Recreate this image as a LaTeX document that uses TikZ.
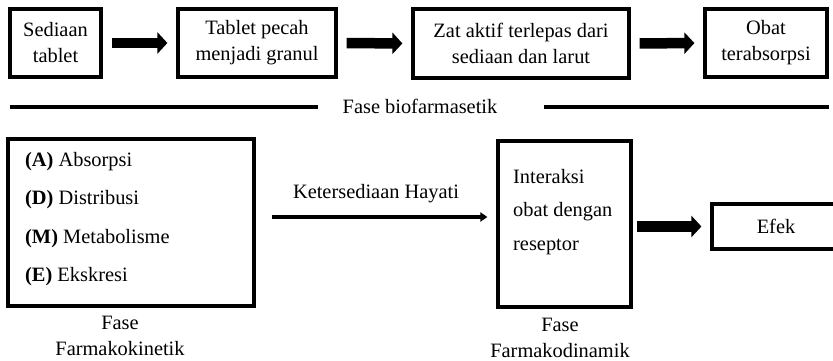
\documentclass[tikz,border=0pt]{standalone}
\usepackage{fontspec}
\setmainfont{Liberation Serif}
\usetikzlibrary{arrows.meta}
\begin{document}
\begin{tikzpicture}[x=1pt,y=-1pt,
  font=\fontsize{20.4pt}{26pt}\selectfont,
  box/.style={draw=black,line width=3.2pt,inner sep=0pt,align=center},
  fat/.style={line width=10.5pt,-{Triangle[length=10pt,width=21pt]}},
  thin/.style={line width=3.2pt,-{Triangle[length=7pt,width=9pt]}},
  rule/.style={line width=3.2pt},
  item/.style={anchor=west,inner sep=0pt}]
\useasboundingbox (0,0) rectangle (833,361);

% biopharmaceutical phase: top row
\node[box,minimum width=91pt,minimum height=68pt]  (b1) at (55.5,43) {Sediaan\\tablet};
\node[box,minimum width=158pt,minimum height=68pt] (b2) at (257,43) {Tablet pecah\\menjadi granul};
\node[box,minimum width=216pt,minimum height=69pt] (b3) at (521,43.5) {Zat aktif terlepas dari\\sediaan dan larut};
\node[box,minimum width=122pt,minimum height=68pt] (b4) at (766,43) {Obat\\terabsorpsi};

\draw[fat,shorten <=9pt,shorten >=9pt] (b1.east) -- (b2.west);
\draw[fat,shorten <=9pt,shorten >=9pt] (b2.east) -- (b3.west);
\draw[fat,shorten <=9pt,shorten >=9pt] (b3.east) -- (b4.west);

% phase caption with rules on both sides
\node[inner sep=0pt] (fb) at (420,106) {Fase biofarmasetik};
\coordinate (l1) at (10,107);
\coordinate (r1) at (829,107);
\draw[rule] (l1) -- ([xshift=-24pt]fb.west |- l1);
\draw[rule] ([xshift=46pt]fb.east |- r1) -- (r1);

% pharmacokinetic phase
\node[box,minimum width=246pt,minimum height=167pt] (pk) at (131,222.5) {};
\node[item] (iA) at (25,162) {\textbf{(A)} Absorpsi};
\node[item] (iD) at (25,200) {\textbf{(D)} Distribusi};
\node[item] (iM) at (25,238.5) {\textbf{(M)} Metabolisme};
\node[item] (iE) at (25,277) {\textbf{(E)} Ekskresi};
\node[align=center,inner sep=0pt] (pkl) at (120,336) {Fase\\Farmakokinetik};

% pharmacodynamic phase
\node[box,minimum width=133pt,minimum height=166pt] (pd) at (564.5,224) {};
\node[item] (t1) at (513,177) {Interaksi};
\node[item] (t2) at (513,212) {obat dengan};
\node[item] (t3) at (513,247) {reseptor};
\node[align=center,inner sep=0pt] (pdl) at (560,337.5) {Fase\\Farmakodinamik};

\draw[thin,shorten <=16pt,shorten >=9pt] (pk.east |- 0,217) -- (pd.west |- 0,217);
\node[inner sep=0pt] (kh) at (376,194) {Ketersediaan Hayati};

% effect
\node[box,minimum width=124pt,minimum height=45pt] (ef) at (774,226.5) {};
\node[inner sep=0pt] (eft) at (776,226) {Efek};
\draw[fat,shorten <=4pt,shorten >=9pt] (pd.east |- ef) -- (ef.west);
\end{tikzpicture}
\end{document}
